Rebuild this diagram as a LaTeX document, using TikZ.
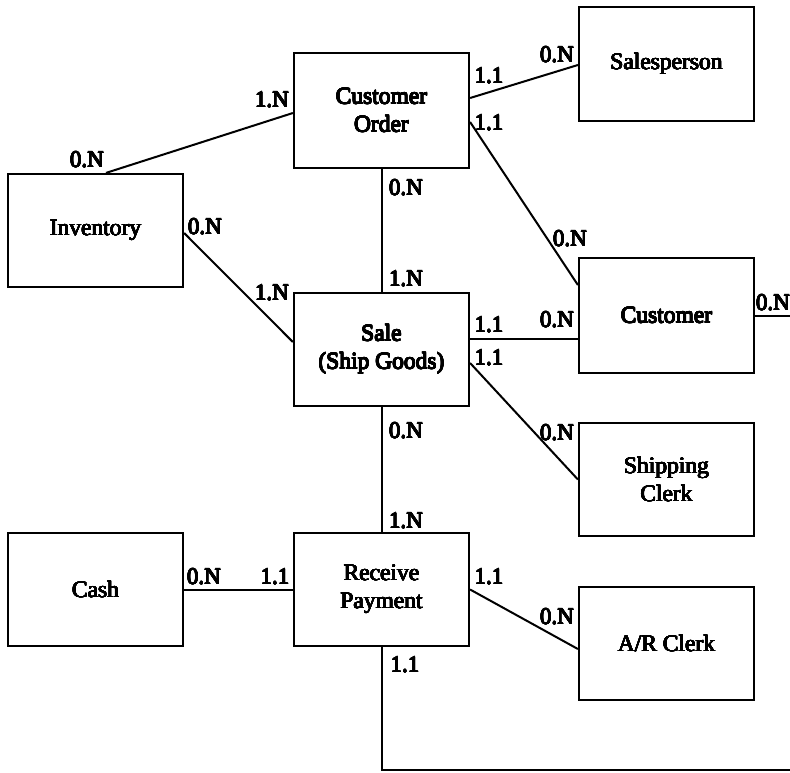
\documentclass[tikz,border=0pt]{standalone}
\usepackage{fontspec}
\setmainfont{Liberation Serif}
\usepackage[copies]{contour}
\contourlength{0.35pt}
\contournumber{16}
% heavy print: text with a thin contour in its own colour
\newcommand{\hv}[1]{\contour{black}{#1}}
\begin{document}
\begin{tikzpicture}[x=1pt,y=-1pt,
  entity/.style={draw, line width=2.2pt, rectangle, inner sep=0pt,
    minimum width=175pt, align=center,
    font=\fontsize{23.5}{28}\selectfont},
  link/.style={line width=2pt},
  card/.style={inner sep=0pt, font=\fontsize{23}{26}\selectfont}]
\useasboundingbox (0,0) rectangle (790,772);

% entities and events
\node[entity, minimum height=115pt] (co)   at (381.5,110.5) {\hv{Customer}\\\hv{Order}};
\node[entity, minimum height=114pt] (sp)   at (666.5,64)    {\hv{Salesperson}};
\node[entity, minimum height=113pt] (inv)  at (95.5,230.5)  {\hv{Inventory}};
\node[entity, minimum height=115pt] (cust) at (666.5,315.5) {\hv{Customer}};
\node[entity, minimum height=113pt] (sale) at (381.5,349.5) {\hv{Sale}\\\hv{(Ship Goods)}};
\node[entity, minimum height=113pt] (ship) at (666.5,479.5) {\hv{Shipping}\\\hv{Clerk}};
\node[entity, minimum height=113pt] (cash) at (95.5,589.5)  {\hv{Cash}};
\node[entity, minimum height=113pt] (rp)   at (381.5,589.5) {\hv{Receive}\\\hv{Payment}};
\node[entity, minimum height=113pt] (ar)   at (666.5,643.5) {\hv{A/R Clerk}};

% free ends running off the sheet
\coordinate (custout) at (790,315.5);
\coordinate (rpdown)  at (381.5,770);
\coordinate (rpout)   at (790,770);

% relationships
\draw[link] ([xshift=10.5pt]inv.north) -- ([yshift=-2.5pt]co.west);
\draw[link] ([yshift=12.5pt]co.east) -- ([yshift=-1pt]sp.west);
\draw[link] ([yshift=-11.5pt]co.east) -- ([yshift=30.5pt]cust.west);
\draw[link] (co.south) -- (sale.north);
\draw[link] ([yshift=-2.5pt]inv.east) -- ([yshift=7.5pt]sale.west);
\draw[link] ([yshift=10.5pt]sale.east) -- ([yshift=-23.5pt]cust.west);
\draw[link] ([yshift=-13.5pt]sale.east) -- (ship.west);
\draw[link] (sale.south) -- (rp.north);
\draw[link] (cash.east) -- (rp.west);
\draw[link] (rp.east) -- ([yshift=-5.5pt]ar.west);
\draw[link] (rp.south) -- (rpdown) -- (rpout);
\draw[link] (cust.east) -- (custout);

% cardinalities
\node[card] (c1)  at (272,100) {\hv{1.N}};
\node[card] (c2)  at (87,160)  {\hv{0.N}};
\node[card] (c3)  at (489,76)  {\hv{1.1}};
\node[card] (c4)  at (557,55)  {\hv{0.N}};
\node[card] (c5)  at (489,123) {\hv{1.1}};
\node[card] (c6)  at (406,188) {\hv{0.N}};
\node[card] (c7)  at (205,227) {\hv{0.N}};
\node[card] (c8)  at (570,239) {\hv{0.N}};
\node[card] (c9)  at (406,279) {\hv{1.N}};
\node[card] (c10) at (272,293) {\hv{1.N}};
\node[card] (c11) at (489,325) {\hv{1.1}};
\node[card] (c12) at (557,320) {\hv{0.N}};
\node[card] (c13) at (489,358) {\hv{1.1}};
\node[card] (c14) at (557,433) {\hv{0.N}};
\node[card] (c15) at (406,431) {\hv{0.N}};
\node[card] (c16) at (406,521) {\hv{1.N}};
\node[card] (c17) at (204,577) {\hv{0.N}};
\node[card] (c18) at (275,577) {\hv{1.1}};
\node[card] (c19) at (489,577) {\hv{1.1}};
\node[card] (c20) at (557,617) {\hv{0.N}};
\node[card] (c21) at (405,665) {\hv{1.1}};
\node[card] (c22) at (773,303) {\hv{0.N}};
\end{tikzpicture}
\end{document}
